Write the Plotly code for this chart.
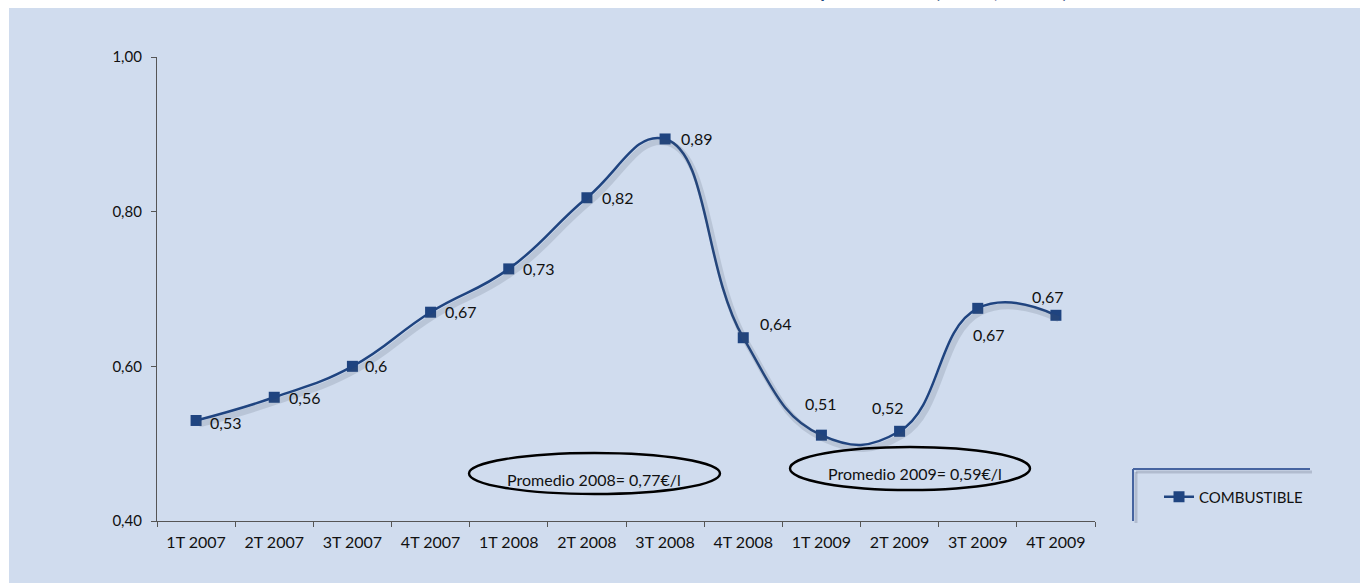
import plotly.graph_objects as go

# ---- data ----
categories = ["1T 2007", "2T 2007", "3T 2007", "4T 2007", "1T 2008", "2T 2008",
              "3T 2008", "4T 2008", "1T 2009", "2T 2009", "3T 2009", "4T 2009"]
combustible = [0.53, 0.56, 0.60, 0.67, 0.726, 0.818, 0.894, 0.637, 0.511, 0.516, 0.675, 0.666]
value_labels = ["0,53", "0,56", "0,6", "0,67", "0,73", "0,82", "0,89", "0,64", "0,51", "0,52", "0,67", "0,67"]
y_ticks = [0.40, 0.60, 0.80, 1.00]
series_name = "COMBUSTIBLE"
promedio_texts = ["Promedio 2008= 0,77€/l", "Promedio 2009= 0,59€/l"]
title_text = "Evolución del precio medio (€/litro, sin IVA)"

# ---- styling / layout helpers ----
W, H = 1360, 583
L, R, T, B = 157, 1095, 57, 521
def px(x):
    return (x - L) / (R - L)
def py(y):
    return (B - y) / (B - T)

BG = "rgb(208,220,238)"
LINE = "rgb(31,68,128)"
FONT = "Lato"
TXT = "#111111"

# shadow offsets (pixels -> data units)
cat_w = (R - L) / len(categories)
sdx = 3 / cat_w
sdy = 4 / (B - T) * 0.6

fig = go.Figure()
fig.add_trace(go.Scatter(
    x=categories, y=combustible, mode="lines", name="shadow", showlegend=False,
    hoverinfo="skip", xaxis="x2", yaxis="y2",
    line=dict(color="rgba(70,80,100,0.16)", width=6, shape="spline", smoothing=1.3),
))
fig.add_trace(go.Scatter(
    x=categories, y=combustible, mode="lines+markers", name=series_name,
    line=dict(color=LINE, width=2.5, shape="spline", smoothing=1.3),
    marker=dict(symbol="square", size=11, color=LINE),
))

# label placement: (xanchor, xshift, yshift)
label_pos = [("left", 12, -2), ("left", 13, 0), ("left", 11, 1), ("left", 12, 1),
             ("left", 12, 0), ("left", 13, 0), ("left", 14, 0), ("left", 15, 14),
             ("center", -1, 32), ("center", -12, 24), ("center", 11, -26), ("center", -8, 19)]
annotations = []
for c, v, t, (xa, xs, ys) in zip(categories, combustible, value_labels, label_pos):
    annotations.append(dict(x=c, y=v, xref="x", yref="y", text=t, showarrow=False,
                            xanchor=xa, yanchor="middle", xshift=xs, yshift=ys,
                            font=dict(family=FONT, size=16, color=TXT)))

# promedio ellipses texts
annotations.append(dict(x=px(594), y=py(479), xref="paper", yref="paper", text=promedio_texts[0],
                        showarrow=False, xanchor="center", yanchor="middle",
                        font=dict(family=FONT, size=16, color=TXT)))
annotations.append(dict(x=px(915), y=py(473), xref="paper", yref="paper", text=promedio_texts[1],
                        showarrow=False, xanchor="center", yanchor="middle",
                        font=dict(family=FONT, size=16, color=TXT)))
# clipped title (only its lowest part shows above the panel, as in the source)
annotations.append(dict(x=px(1070), y=py(4), xref="paper", yref="paper", text="<b>" + title_text + "</b>",
                        showarrow=False, xanchor="right", yanchor="bottom",
                        font=dict(family=FONT, size=19, color="#1F497D")))

shapes = [
    # white outer strips
    dict(type="rect", xref="paper", yref="paper", x0=px(-5), x1=px(9), y0=py(-5), y1=py(590),
         fillcolor="white", line=dict(width=0), layer="below"),
    dict(type="rect", xref="paper", yref="paper", x0=px(-5), x1=px(1370), y0=py(-5), y1=py(8),
         fillcolor="white", line=dict(width=0), layer="below"),
    # ellipses
    dict(type="circle", xref="paper", yref="paper", x0=px(469), x1=px(720), y0=py(494), y1=py(453),
         line=dict(color="black", width=2.4)),
    dict(type="circle", xref="paper", yref="paper", x0=px(790), x1=px(1030), y0=py(490), y1=py(447),
         line=dict(color="black", width=2.4)),
    # legend frame (top + left lines) with soft shadow
    dict(type="line", xref="paper", yref="paper", x0=px(1136), x1=px(1312), y0=py(472), y1=py(472),
         line=dict(color="rgba(120,130,150,0.35)", width=3)),
    dict(type="line", xref="paper", yref="paper", x0=px(1136), x1=px(1136), y0=py(472), y1=py(523),
         line=dict(color="rgba(120,130,150,0.35)", width=3)),
    dict(type="line", xref="paper", yref="paper", x0=px(1133), x1=px(1310), y0=py(469), y1=py(469),
         line=dict(color="rgb(70,100,160)", width=2)),
    dict(type="line", xref="paper", yref="paper", x0=px(1133), x1=px(1133), y0=py(469), y1=py(521),
         line=dict(color="rgb(70,100,160)", width=2)),
]

fig.update_layout(
    width=W, height=H,
    margin=dict(l=L, r=W - R, t=T, b=H - B, pad=0),
    paper_bgcolor=BG, plot_bgcolor=BG,
    separators=",.",
    font=dict(family=FONT, size=15, color=TXT),
    showlegend=True,
    legend=dict(x=px(1159), y=py(497), xanchor="left", yanchor="middle",
                bgcolor="rgba(0,0,0,0)", font=dict(family=FONT, size=15, color=TXT)),
    annotations=annotations,
    shapes=shapes,
    xaxis=dict(type="category", range=[-0.5, len(categories) - 0.5], showgrid=False,
               zeroline=False, showline=True,
               linecolor="#555555", linewidth=1.2, ticks="outside", ticklen=5,
               tickcolor="#555555", tickson="boundaries", ticklabelstandoff=7,
               tickfont=dict(family=FONT, size=16, color=TXT)),
    yaxis=dict(range=[0.40, 1.00], tickvals=y_ticks, tickformat=".2f", showgrid=False,
               zeroline=False, showline=True, linecolor="#555555", linewidth=1.2,
               ticks="outside", ticklen=5, tickcolor="#555555", ticklabelstandoff=6,
               tickfont=dict(family=FONT, size=15, color=TXT)),
    xaxis2=dict(type="category", overlaying="x", visible=False,
                range=[-0.5 - sdx, len(categories) - 0.5 - sdx]),
    yaxis2=dict(overlaying="y", visible=False, range=[0.40 + sdy, 1.00 + sdy]),
)

fig.write_html("out.html", config={"displayModeBar": False},
               post_script="document.body.style.margin='0px';")
